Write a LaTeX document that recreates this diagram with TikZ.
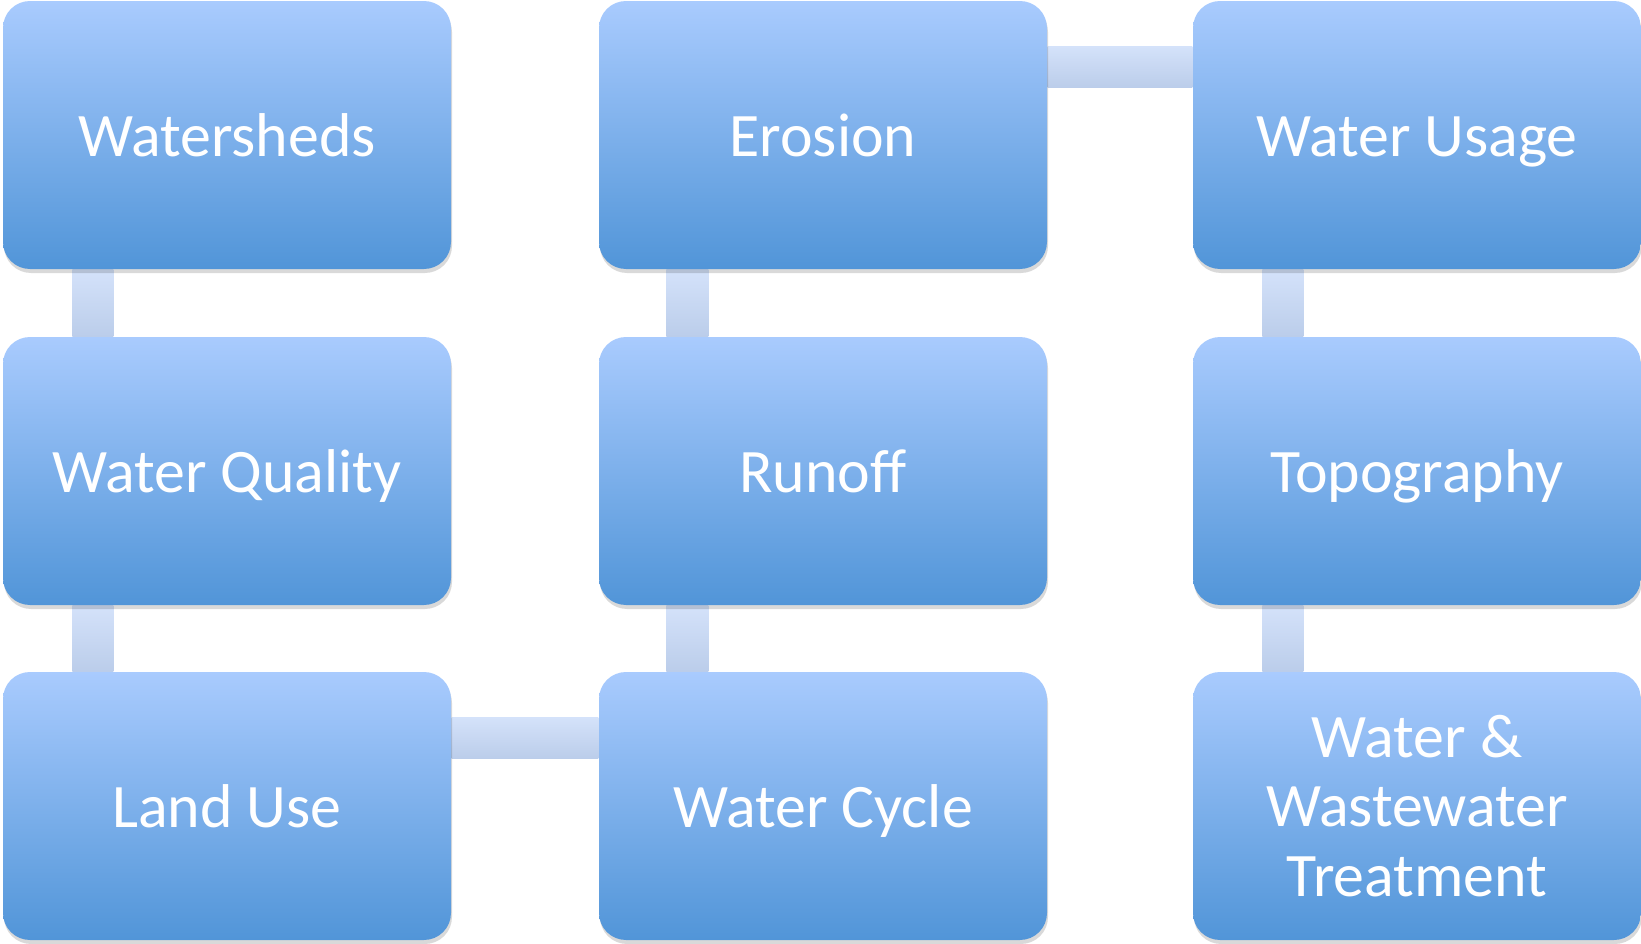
\documentclass[tikz,border=0pt]{standalone}
\usepackage{fontspec}
\setmainfont{Carlito}
\usetikzlibrary{shadows,backgrounds}
\definecolor{boxtop}{RGB}{169,203,254}
\definecolor{boxbot}{RGB}{81,149,216}
\definecolor{bartop}{RGB}{212,226,250}
\definecolor{barbot}{RGB}{187,205,234}
\begin{document}
\begin{tikzpicture}[
	topic/.style={rounded corners=0.27cm, minimum width=4.48cm, minimum height=2.68cm,
		top color=boxtop, bottom color=boxbot, text=white, align=center, inner sep=0pt,
		font=\fontsize{17.6}{19.8}\selectfont, text height=0.42cm, text depth=0cm,
		drop shadow={shadow xshift=0.01cm, shadow yshift=-0.04cm, opacity=0.15, fill=black}},
	bar/.style={top color=bartop, bottom color=barbot}
]
	\useasboundingbox (0,0) rectangle (16.41,-9.44);

	\node[topic] (ws) at (2.27,-1.35) {Watersheds};
	\node[topic] (wq) at (2.27,-4.71) {Water Quality};
	\node[topic] (lu) at (2.27,-8.06) {Land Use};

	\node[topic] (er) at (8.23,-1.35) {Erosion};
	\node[topic] (ro) at (8.23,-4.71) {Runoff};
	\node[topic] (wc) at (8.23,-8.06) {Water Cycle};

	\node[topic] (wu) at (14.17,-1.35) {Water Usage};
	\node[topic] (tp) at (14.17,-4.71) {Topography};
	\node[topic, text height=, text depth=] (wt) at (14.17,-8.06) {Water \&\\Wastewater\\Treatment};

	\begin{pgfonlayer}{background}
		\path[bar] ([xshift=0.70cm]ws.south west) rectangle ([xshift=1.11cm]wq.north west);
		\path[bar] ([xshift=0.70cm]wq.south west) rectangle ([xshift=1.11cm]lu.north west);
		\path[bar] ([yshift=-0.46cm]lu.north east) rectangle ([yshift=-0.87cm]wc.north west);
		\path[bar] ([xshift=0.68cm]wc.north west) rectangle ([xshift=1.10cm]ro.south west);
		\path[bar] ([xshift=0.68cm]ro.north west) rectangle ([xshift=1.10cm]er.south west);
		\path[bar] ([yshift=-0.46cm]er.north east) rectangle ([yshift=-0.87cm]wu.north west);
		\path[bar] ([xshift=0.70cm]wu.south west) rectangle ([xshift=1.11cm]tp.north west);
		\path[bar] ([xshift=0.70cm]tp.south west) rectangle ([xshift=1.11cm]wt.north west);
	\end{pgfonlayer}
\end{tikzpicture}
\end{document}
